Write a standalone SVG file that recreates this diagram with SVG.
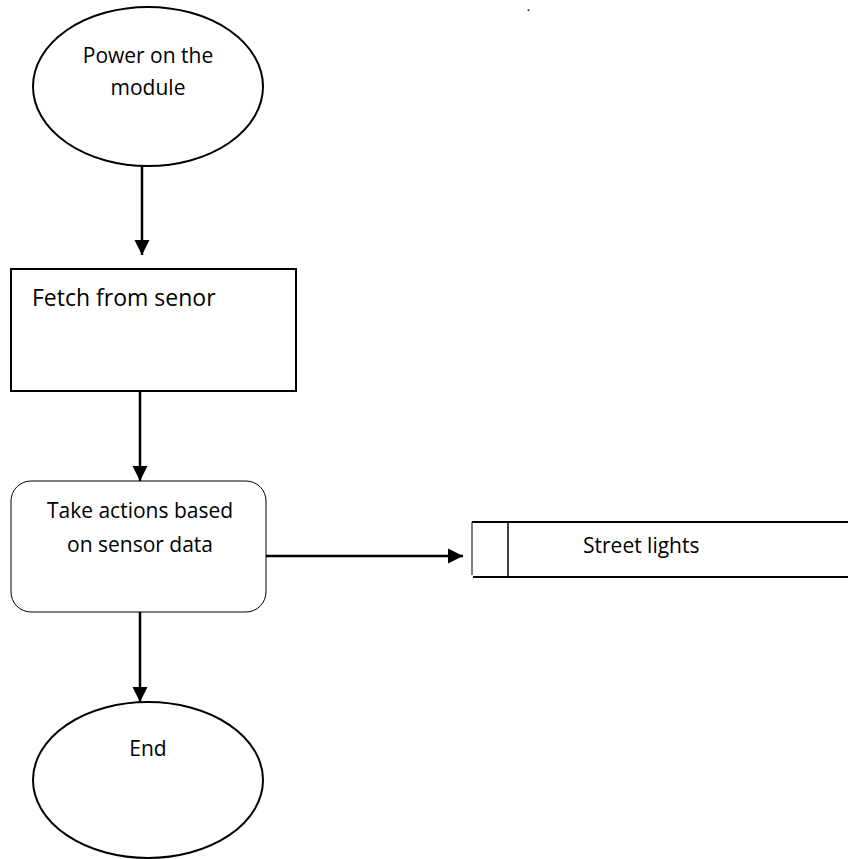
<svg xmlns="http://www.w3.org/2000/svg" width="848" height="859" viewBox="0 0 848 859">
<style>
  text { font-family: "Open Sans", "Liberation Sans", sans-serif; font-size: 21px; fill: #000; }
  .big { font-size: 23px; }
  .dot { font-size: 10px; font-weight: bold; }
  .thick { fill: #fff; stroke: #000; stroke-width: 2; }
  .thin { fill: #fff; stroke: #000; stroke-width: 1; }
  .conn { stroke: #000; stroke-width: 2.5; fill: none; }
</style>
<defs>
  <marker id="arr" viewBox="0 0 10 10" refX="10" refY="5" markerUnits="userSpaceOnUse" markerWidth="15" markerHeight="16" orient="auto">
    <path d="M0,0 L10,5 L0,10 Z" fill="#000"/>
  </marker>
</defs>
<rect width="848" height="859" fill="#fff"/>
<text class="dot" x="527" y="10.5">.</text>
<g id="connectors">
  <line class="conn" x1="142" y1="166" x2="142" y2="255" marker-end="url(#arr)"/>
  <line class="conn" x1="140" y1="391" x2="140" y2="481" marker-end="url(#arr)"/>
  <line class="conn" x1="266" y1="556" x2="463" y2="556" marker-end="url(#arr)"/>
  <line class="conn" x1="140" y1="612" x2="140" y2="702" marker-end="url(#arr)"/>
</g>
<g id="start">
  <ellipse class="thick" cx="148" cy="86.5" rx="115" ry="79.5"/>
  <text x="148" y="63" text-anchor="middle">Power on the</text>
  <text x="148" y="95" text-anchor="middle">module</text>
</g>
<g id="fetch">
  <rect class="thick" x="11" y="269" width="285" height="122"/>
  <text class="big" x="32" y="306">Fetch from senor</text>
</g>
<g id="action">
  <rect class="thin" x="11" y="481" width="255" height="131" rx="20" ry="20"/>
  <text x="140" y="518" text-anchor="middle">Take actions based</text>
  <text x="140" y="552" text-anchor="middle">on sensor data</text>
</g>
<g id="streetlights">
  <line x1="472" y1="522" x2="848" y2="522" stroke="#000" stroke-width="2"/>
  <line x1="473" y1="577" x2="848" y2="577" stroke="#000" stroke-width="2"/>
  <line x1="472" y1="522" x2="472" y2="575" stroke="#000" stroke-width="1"/>
  <line x1="508" y1="522" x2="508" y2="577" stroke="#000" stroke-width="1.5"/>
  <text x="583" y="553">Street lights</text>
</g>
<g id="end">
  <ellipse class="thick" cx="148" cy="780" rx="115" ry="78"/>
  <text x="148" y="756" text-anchor="middle">End</text>
</g>
</svg>
